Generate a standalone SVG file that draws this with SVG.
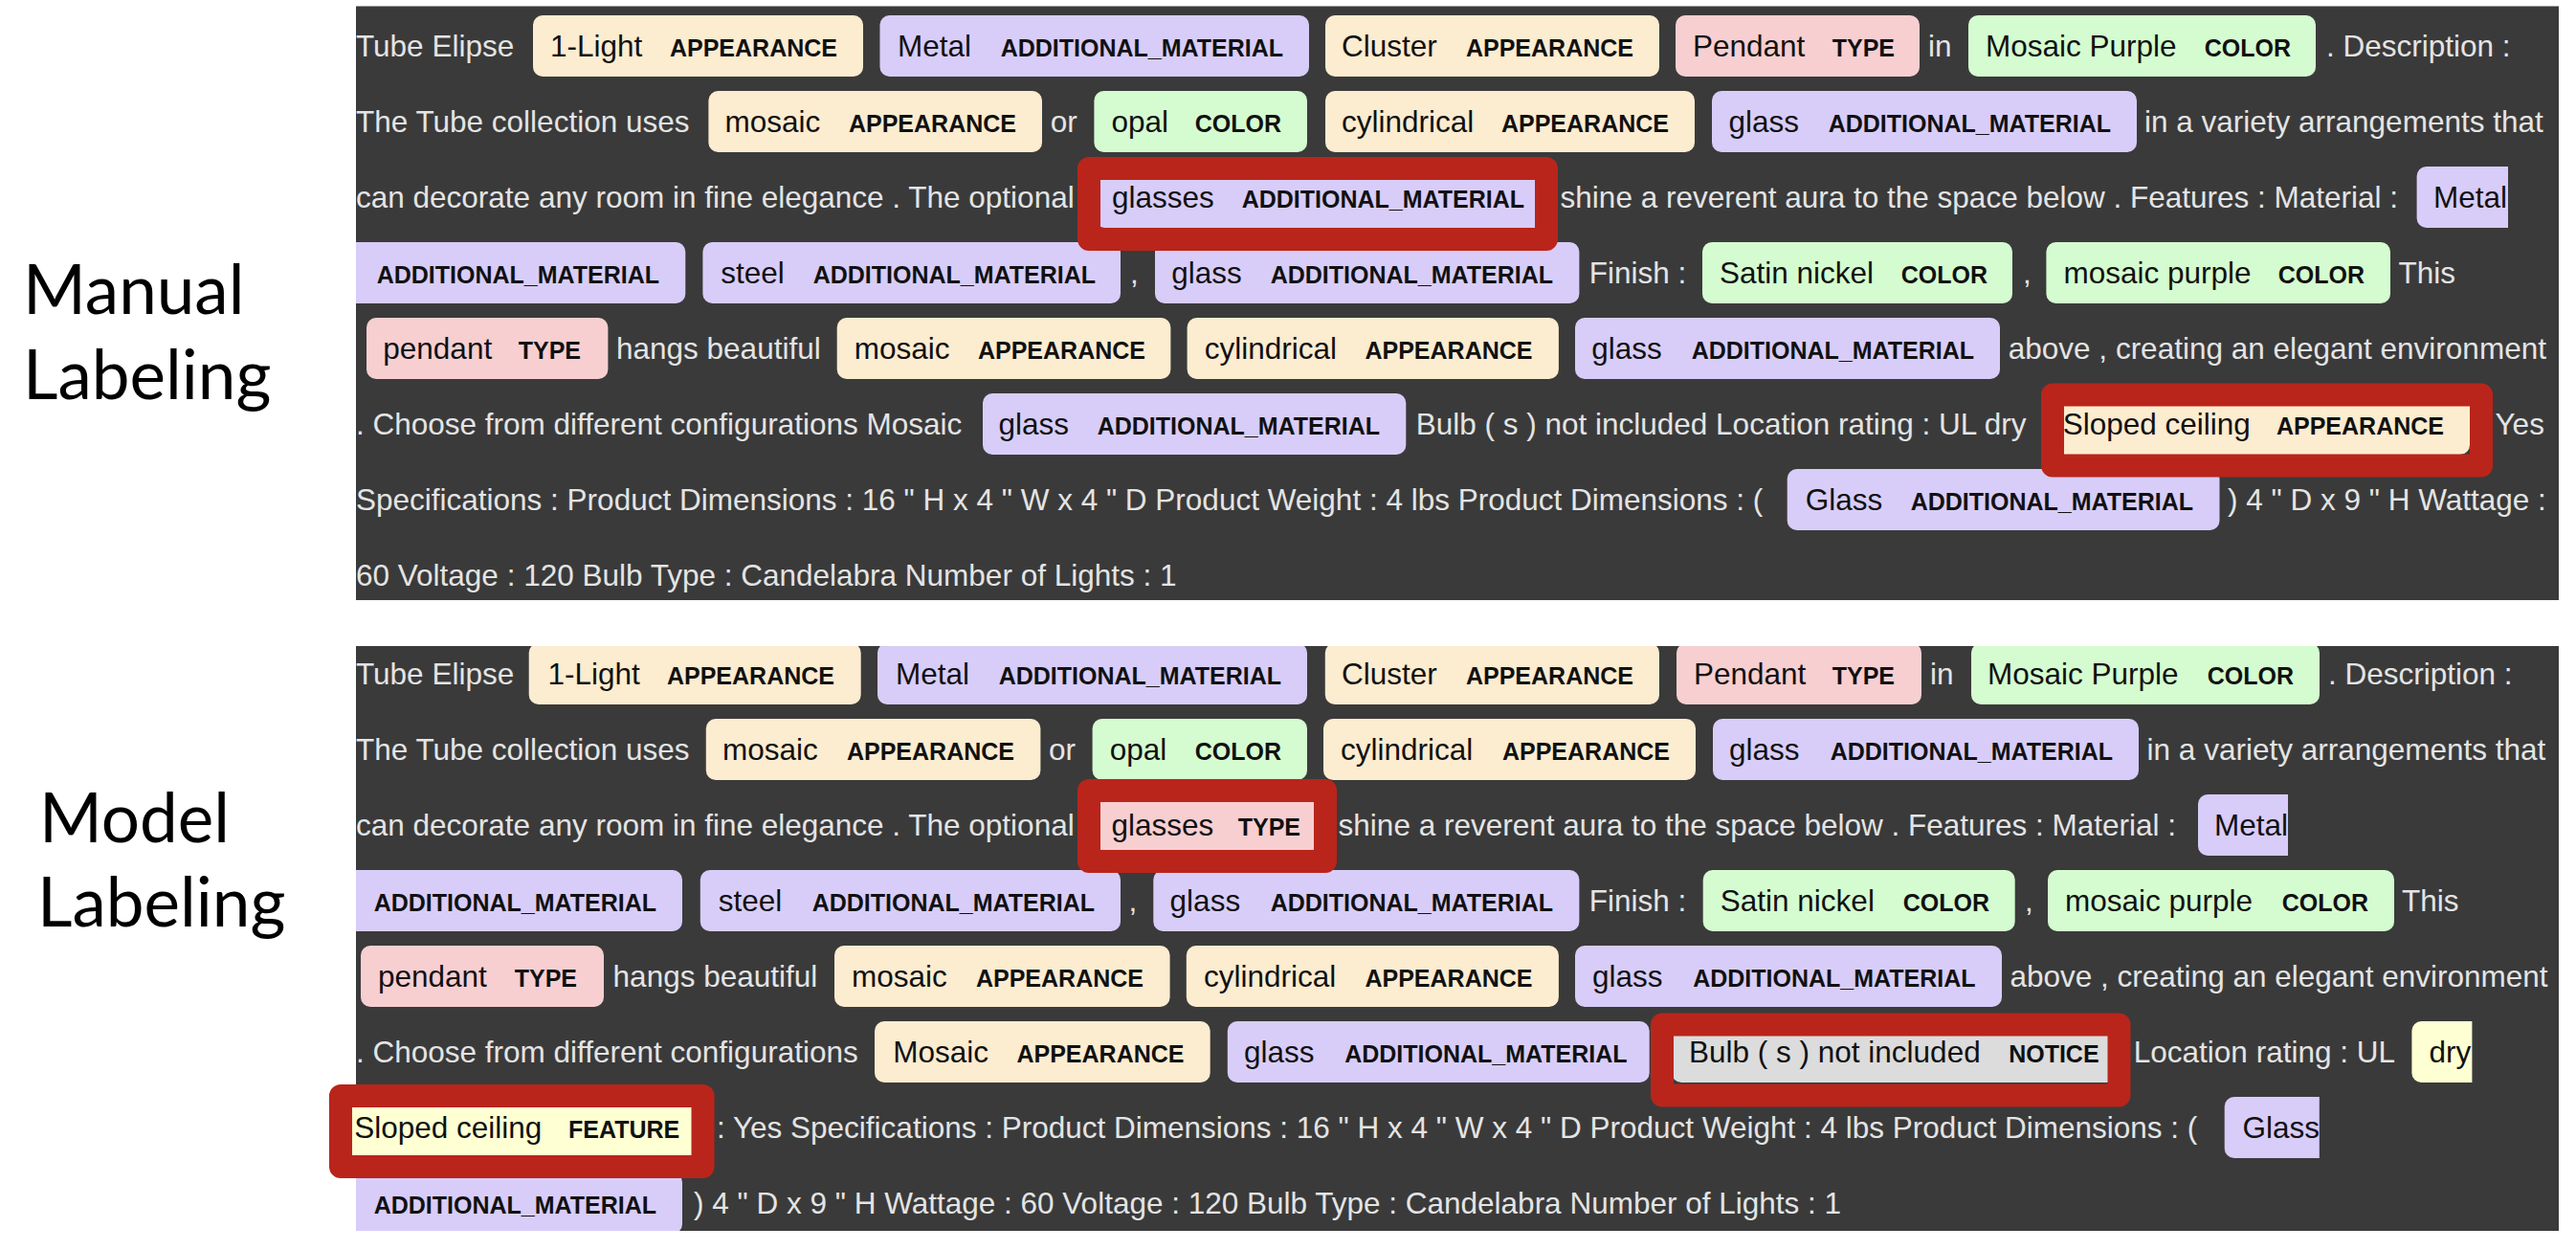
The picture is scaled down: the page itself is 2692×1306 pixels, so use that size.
<svg xmlns="http://www.w3.org/2000/svg" width="2692" height="1306" viewBox="0 0 2692 1306">
<defs>
<style>
.bg{fill:#3a3a3a}
.t{font-family:"Liberation Sans",Arial,sans-serif;font-size:31.5px;fill:#e4e4e4}
.c{font-family:"Liberation Sans",Arial,sans-serif;font-size:31.5px;fill:#111}
.l{font-family:"Liberation Sans",Arial,sans-serif;font-size:25px;font-weight:bold;fill:#111;text-anchor:end}
.side{font-family:Lato,"Noto Sans",sans-serif;font-size:71px;fill:#000}
.ap{fill:#fcecd0}
.am{fill:#d8cdf9}
.co{fill:#d5fcd0}
.ty{fill:#f7cfd1}
.no{fill:#dcdcdc}
.fe{fill:#feffd2}
.hl{fill:none;stroke:#b9251b;stroke-width:24;stroke-linejoin:round}
</style>
<clipPath id="cp1"><rect x="372" y="6" width="2302" height="621"/></clipPath>
<clipPath id="cp2"><rect x="340" y="675" width="2334" height="611"/></clipPath>
</defs>
<rect width="2692" height="1306" fill="#ffffff"/>

<g id="side-labels">
<text class="side" x="24" y="328">Manual</text>
<text class="side" x="24" y="417">Labeling</text>
<text class="side" x="41" y="880">Model</text>
<text class="side" x="39" y="968">Labeling</text>
</g>

<g id="manual-panel">
<rect class="bg" x="372" y="6" width="2302" height="621"/>
<line x1="372" y1="6.5" x2="2674" y2="6.5" stroke="#9a9a9a" stroke-width="1"/>
<g clip-path="url(#cp1)">
<!-- Row 1 -->
<text class="t" x="372" y="59">Tube Elipse</text>
<g id="m-1light"><rect class="ap" x="557" y="16" width="345" height="64" rx="10"/><text class="c" x="575" y="59">1-Light</text><text class="l" x="875" y="59">APPEARANCE</text></g>
<g id="m-metal1"><rect class="am" x="919.5" y="16" width="448.5" height="64" rx="10"/><text class="c" x="938" y="59">Metal</text><text class="l" x="1341" y="59">ADDITIONAL_MATERIAL</text></g>
<g id="m-cluster"><rect class="ap" x="1385" y="16" width="349" height="64" rx="10"/><text class="c" x="1402" y="59">Cluster</text><text class="l" x="1707" y="59">APPEARANCE</text></g>
<g id="m-pendant1"><rect class="ty" x="1751" y="16" width="255" height="64" rx="10"/><text class="c" x="1769" y="59">Pendant</text><text class="l" x="1980" y="59">TYPE</text></g>
<text class="t" x="2015" y="59">in</text>
<g id="m-mosaicpurple1"><rect class="co" x="2057" y="16" width="363" height="64" rx="10"/><text class="c" x="2075" y="59">Mosaic Purple</text><text class="l" x="2394" y="59">COLOR</text></g>
<text class="t" x="2431" y="59">. Description :</text>
<!-- Row 2 -->
<text class="t" x="372" y="138">The Tube collection uses</text>
<g id="m-mosaic1"><rect class="ap" x="740.4" y="95" width="348.6" height="64" rx="10"/><text class="c" x="757.6" y="138">mosaic</text><text class="l" x="1062" y="138">APPEARANCE</text></g>
<text class="t" x="1097.8" y="138">or</text>
<g id="m-opal"><rect class="co" x="1143.4" y="95" width="222.6" height="64" rx="10"/><text class="c" x="1161.5" y="138">opal</text><text class="l" x="1339" y="138">COLOR</text></g>
<g id="m-cyl1"><rect class="ap" x="1385" y="95" width="386" height="64" rx="10"/><text class="c" x="1402" y="138">cylindrical</text><text class="l" x="1744" y="138">APPEARANCE</text></g>
<g id="m-glass1"><rect class="am" x="1789" y="95" width="444" height="64" rx="10"/><text class="c" x="1806.5" y="138">glass</text><text class="l" x="2206" y="138">ADDITIONAL_MATERIAL</text></g>
<text class="t" x="2241" y="138">in a variety arrangements that</text>
<!-- Row 3 -->
<text class="t" x="372" y="217">can decorate any room in fine elegance . The optional</text>
<g id="m-glasses"><rect class="am" x="1144" y="174" width="475" height="64" rx="10"/><text class="c" x="1162" y="217">glasses</text><text class="l" x="1593" y="217">ADDITIONAL_MATERIAL</text></g>
<text class="t" x="1630.6" y="217">shine a reverent aura to the space below . Features : Material :</text>
<g id="m-metal2"><path class="am" d="M2535.6,174 H2621 V238 H2535.6 A10,10 0 0 1 2525.6,228 V184 A10,10 0 0 1 2535.6,174 Z"/><text class="c" x="2543" y="217">Metal</text></g>
<!-- Row 4 -->
<g id="m-metal2b"><path class="am" d="M372,253 H706.3 A10,10 0 0 1 716.3,263 V307 A10,10 0 0 1 706.3,317 H372 Z"/><text class="l" x="689" y="296">ADDITIONAL_MATERIAL</text></g>
<g id="m-steel"><rect class="am" x="734.4" y="253" width="436.6" height="64" rx="10"/><text class="c" x="753.3" y="296">steel</text><text class="l" x="1145" y="296">ADDITIONAL_MATERIAL</text></g>
<text class="t" x="1181" y="296">,</text>
<g id="m-glass2"><rect class="am" x="1207" y="253" width="443.4" height="64" rx="10"/><text class="c" x="1224.3" y="296">glass</text><text class="l" x="1623" y="296">ADDITIONAL_MATERIAL</text></g>
<text class="t" x="1660.7" y="296">Finish :</text>
<g id="m-satin"><rect class="co" x="1779" y="253" width="324" height="64" rx="10"/><text class="c" x="1797" y="296">Satin nickel</text><text class="l" x="2077" y="296">COLOR</text></g>
<text class="t" x="2114" y="296">,</text>
<g id="m-mosaicpurple2"><rect class="co" x="2138.4" y="253" width="359.6" height="64" rx="10"/><text class="c" x="2156.5" y="296">mosaic purple</text><text class="l" x="2471" y="296">COLOR</text></g>
<text class="t" x="2506.6" y="296">This</text>
<!-- Row 5 -->
<g id="m-pendant2"><rect class="ty" x="383" y="332" width="252.4" height="64" rx="10"/><text class="c" x="400.3" y="375">pendant</text><text class="l" x="607" y="375">TYPE</text></g>
<text class="t" x="644" y="375">hangs beautiful</text>
<g id="m-mosaic2"><rect class="ap" x="874.7" y="332" width="348.7" height="64" rx="10"/><text class="c" x="892.8" y="375">mosaic</text><text class="l" x="1197" y="375">APPEARANCE</text></g>
<g id="m-cyl2"><rect class="ap" x="1240.6" y="332" width="388.3" height="64" rx="10"/><text class="c" x="1258.7" y="375">cylindrical</text><text class="l" x="1601.5" y="375">APPEARANCE</text></g>
<g id="m-glass3"><rect class="am" x="1646" y="332" width="444" height="64" rx="10"/><text class="c" x="1663.3" y="375">glass</text><text class="l" x="2063" y="375">ADDITIONAL_MATERIAL</text></g>
<text class="t" x="2098.8" y="375">above , creating an elegant environment</text>
<!-- Row 6 -->
<text class="t" x="372" y="454">. Choose from different configurations Mosaic</text>
<g id="m-glass4"><rect class="am" x="1027" y="411" width="442.3" height="64" rx="10"/><text class="c" x="1043.5" y="454">glass</text><text class="l" x="1442" y="454">ADDITIONAL_MATERIAL</text></g>
<text class="t" x="1479.7" y="454">Bulb ( s ) not included Location rating : UL dry</text>
<g id="m-sloped"><rect class="ap" x="2137.7" y="411" width="443.3" height="64" rx="10"/><text class="c" x="2155.7" y="454">Sloped ceiling</text><text class="l" x="2554" y="454">APPEARANCE</text></g>
<text class="t" x="2607.5" y="454">Yes</text>
<!-- Row 7 -->
<text class="t" x="372" y="533">Specifications : Product Dimensions : 16 " H x 4 " W x 4 " D Product Weight : 4 lbs Product Dimensions : (</text>
<g id="m-glass5"><rect class="am" x="1867.7" y="490" width="451.8" height="64" rx="10"/><text class="c" x="1886.7" y="533">Glass</text><text class="l" x="2292" y="533">ADDITIONAL_MATERIAL</text></g>
<text class="t" x="2328" y="533">) 4 " D x 9 " H Wattage :</text>
<!-- Row 8 -->
<text class="t" x="372" y="612">60 Voltage : 120 Bulb Type : Candelabra Number of Lights : 1</text>
</g>
<g id="m-highlights">
<rect class="hl" x="1138" y="176" width="478" height="74"/>
<rect class="hl" x="2145" y="412.5" width="448" height="74"/>
</g>
</g>

<g id="model-panel">
<rect class="bg" x="372" y="675" width="2302" height="611"/>
<g clip-path="url(#cp2)">
<!-- Row 1 -->
<text class="t" x="372" y="715">Tube Elipse</text>
<g id="p-1light"><rect class="ap" x="552.7" y="672" width="347" height="64" rx="10"/><text class="c" x="572.5" y="715">1-Light</text><text class="l" x="872" y="715">APPEARANCE</text></g>
<g id="p-metal1"><rect class="am" x="917" y="672" width="449" height="64" rx="10"/><text class="c" x="935.9" y="715">Metal</text><text class="l" x="1339" y="715">ADDITIONAL_MATERIAL</text></g>
<g id="p-cluster"><rect class="ap" x="1384.8" y="672" width="349.2" height="64" rx="10"/><text class="c" x="1402" y="715">Cluster</text><text class="l" x="1707" y="715">APPEARANCE</text></g>
<g id="p-pendant1"><rect class="ty" x="1752" y="672" width="256" height="64" rx="10"/><text class="c" x="1770" y="715">Pendant</text><text class="l" x="1980" y="715">TYPE</text></g>
<text class="t" x="2017" y="715">in</text>
<g id="p-mosaicpurple1"><rect class="co" x="2060" y="672" width="364" height="64" rx="10"/><text class="c" x="2077" y="715">Mosaic Purple</text><text class="l" x="2397" y="715">COLOR</text></g>
<text class="t" x="2433" y="715">. Description :</text>
<!-- Row 2 -->
<text class="t" x="372" y="794">The Tube collection uses</text>
<g id="p-mosaic1"><rect class="ap" x="737.8" y="751" width="349.6" height="64" rx="10"/><text class="c" x="755" y="794">mosaic</text><text class="l" x="1060" y="794">APPEARANCE</text></g>
<text class="t" x="1096" y="794">or</text>
<g id="p-opal"><rect class="co" x="1141.6" y="751" width="224.4" height="64" rx="10"/><text class="c" x="1159.7" y="794">opal</text><text class="l" x="1339" y="794">COLOR</text></g>
<g id="p-cyl1"><rect class="ap" x="1383" y="751" width="389" height="64" rx="10"/><text class="c" x="1401" y="794">cylindrical</text><text class="l" x="1745" y="794">APPEARANCE</text></g>
<g id="p-glass1"><rect class="am" x="1790" y="751" width="445" height="64" rx="10"/><text class="c" x="1807" y="794">glass</text><text class="l" x="2208" y="794">ADDITIONAL_MATERIAL</text></g>
<text class="t" x="2243.6" y="794">in a variety arrangements that</text>
<!-- Row 3 -->
<text class="t" x="372" y="873">can decorate any room in fine elegance . The optional</text>
<g id="p-glasses"><rect class="ty" x="1144" y="830" width="242" height="64" rx="10"/><text class="c" x="1161.4" y="873">glasses</text><text class="l" x="1359" y="873">TYPE</text></g>
<text class="t" x="1398.6" y="873">shine a reverent aura to the space below . Features : Material :</text>
<g id="p-metal2"><path class="am" d="M2307,830 H2391 V894 H2307 A10,10 0 0 1 2297,884 V840 A10,10 0 0 1 2307,830 Z"/><text class="c" x="2314" y="873">Metal</text></g>
<!-- Row 4 -->
<g id="p-metal2b"><path class="am" d="M372,909 H703 A10,10 0 0 1 713,919 V963 A10,10 0 0 1 703,973 H372 Z"/><text class="l" x="686" y="952">ADDITIONAL_MATERIAL</text></g>
<g id="p-steel"><rect class="am" x="731.8" y="909" width="439.2" height="64" rx="10"/><text class="c" x="750.8" y="952">steel</text><text class="l" x="1144" y="952">ADDITIONAL_MATERIAL</text></g>
<text class="t" x="1179.5" y="952">,</text>
<g id="p-glass2"><rect class="am" x="1205.3" y="909" width="445.1" height="64" rx="10"/><text class="c" x="1222.6" y="952">glass</text><text class="l" x="1623" y="952">ADDITIONAL_MATERIAL</text></g>
<text class="t" x="1660.7" y="952">Finish :</text>
<g id="p-satin"><rect class="co" x="1779.7" y="909" width="326" height="64" rx="10"/><text class="c" x="1797.8" y="952">Satin nickel</text><text class="l" x="2079" y="952">COLOR</text></g>
<text class="t" x="2116" y="952">,</text>
<g id="p-mosaicpurple2"><rect class="co" x="2140" y="909" width="362" height="64" rx="10"/><text class="c" x="2158" y="952">mosaic purple</text><text class="l" x="2475" y="952">COLOR</text></g>
<text class="t" x="2510" y="952">This</text>
<!-- Row 5 -->
<g id="p-pendant2"><rect class="ty" x="377" y="988" width="254" height="64" rx="10"/><text class="c" x="395" y="1031">pendant</text><text class="l" x="603" y="1031">TYPE</text></g>
<text class="t" x="640.6" y="1031">hangs beautiful</text>
<g id="p-mosaic2"><rect class="ap" x="872" y="988" width="350.6" height="64" rx="10"/><text class="c" x="890" y="1031">mosaic</text><text class="l" x="1195" y="1031">APPEARANCE</text></g>
<g id="p-cyl2"><rect class="ap" x="1239.8" y="988" width="389.1" height="64" rx="10"/><text class="c" x="1257.9" y="1031">cylindrical</text><text class="l" x="1601.5" y="1031">APPEARANCE</text></g>
<g id="p-glass3"><rect class="am" x="1646" y="988" width="446" height="64" rx="10"/><text class="c" x="1664" y="1031">glass</text><text class="l" x="2064.5" y="1031">ADDITIONAL_MATERIAL</text></g>
<text class="t" x="2100.5" y="1031">above , creating an elegant environment</text>
<!-- Row 6 -->
<text class="t" x="372" y="1110">. Choose from different configurations</text>
<g id="p-mosaic3"><rect class="ap" x="914" y="1067" width="350.7" height="64" rx="10"/><text class="c" x="933.3" y="1110">Mosaic</text><text class="l" x="1237.5" y="1110">APPEARANCE</text></g>
<g id="p-glass4"><rect class="am" x="1282.8" y="1067" width="440.9" height="64" rx="10"/><text class="c" x="1300" y="1110">glass</text><text class="l" x="1700.5" y="1110">ADDITIONAL_MATERIAL</text></g>
<g id="p-bulb"><rect class="no" x="1747" y="1067" width="473" height="64" rx="10"/><text class="c" x="1765" y="1110">Bulb ( s ) not included</text><text class="l" x="2193.6" y="1110">NOTICE</text></g>
<text class="t" x="2229.8" y="1110">Location rating : UL</text>
<g id="p-dry"><path class="fe" d="M2530.4,1067 H2583.4 V1131 H2530.4 A10,10 0 0 1 2520.4,1121 V1077 A10,10 0 0 1 2530.4,1067 Z"/><text class="c" x="2538.5" y="1110">dry</text></g>
<!-- Row 7 -->
<g id="p-sloped"><path class="fe" d="M366,1146 H727 A10,10 0 0 1 737,1156 V1200 A10,10 0 0 1 727,1210 H366 Z"/><text class="c" x="370.2" y="1189">Sloped ceiling</text><text class="l" x="710.3" y="1189">FEATURE</text></g>
<text class="t" x="749" y="1189">: Yes Specifications : Product Dimensions : 16 " H x 4 " W x 4 " D Product Weight : 4 lbs Product Dimensions : (</text>
<g id="p-glass5"><path class="am" d="M2334.7,1146 H2423.8 V1210 H2334.7 A10,10 0 0 1 2324.7,1200 V1156 A10,10 0 0 1 2334.7,1146 Z"/><text class="c" x="2343.6" y="1189">Glass</text></g>
<!-- Row 8 -->
<g id="p-glass5b"><path class="am" d="M372,1225 H703 A10,10 0 0 1 713,1235 V1279 A10,10 0 0 1 703,1289 H372 Z"/><text class="l" x="686" y="1268">ADDITIONAL_MATERIAL</text></g>
<text class="t" x="725" y="1268">) 4 " D x 9 " H Wattage : 60 Voltage : 120 Bulb Type : Candelabra Number of Lights : 1</text>
</g>
<g id="p-highlights">
<rect class="hl" x="1138" y="826" width="247" height="74"/>
<rect class="hl" x="1737" y="1070.5" width="477.5" height="74"/>
<rect class="hl" x="356" y="1145" width="378.5" height="74"/>
</g>
</g>
</svg>
